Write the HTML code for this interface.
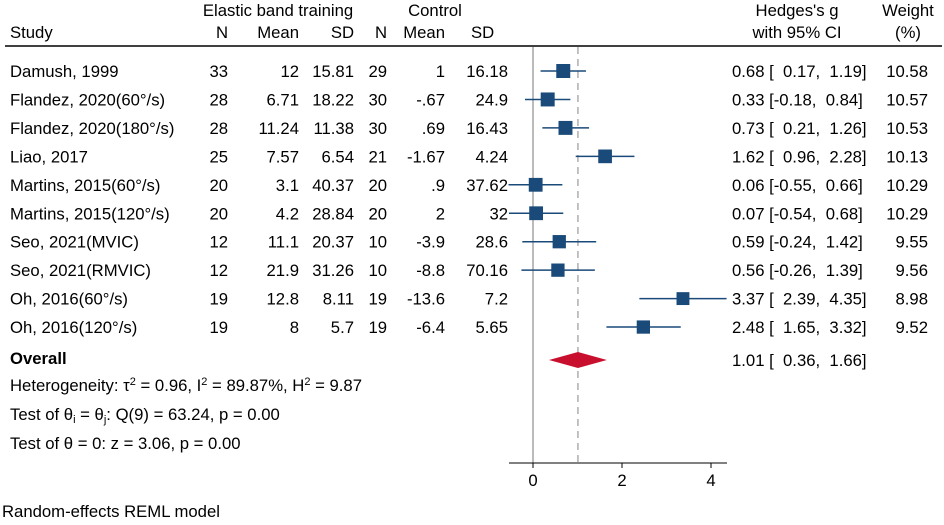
<!DOCTYPE html>
<html><head><meta charset="utf-8">
<style>
body{margin:0;background:#fff;}
svg text{font-family:"Liberation Sans",Arial,sans-serif;font-size:16.7px;fill:#000;white-space:pre;}
</style></head>
<body>
<svg id="chart" width="944" height="520" viewBox="0 0 944 520" xmlns="http://www.w3.org/2000/svg">
<g id="hdr">
<text x="278" y="16" text-anchor="middle">Elastic band training</text>
<text x="435" y="16" text-anchor="middle">Control</text>
<text x="797" y="16" text-anchor="middle">Hedges's g</text>
<text x="908" y="16" text-anchor="middle">Weight</text>
<text x="10" y="38">Study</text>
<text x="228" y="38" text-anchor="end">N</text>
<text x="299" y="38" text-anchor="end">Mean</text>
<text x="354" y="38" text-anchor="end">SD</text>
<text x="387" y="38" text-anchor="end">N</text>
<text x="445" y="38" text-anchor="end">Mean</text>
<text x="471" y="38">SD</text>
<text x="797" y="38" text-anchor="middle">with 95% CI</text>
<text x="908" y="38" text-anchor="middle">(%)</text>
<line x1="5" y1="46" x2="942" y2="46" stroke="#000" stroke-width="1.5"/>
</g>
<g id="rows"></g>
<g id="plot"></g>
<g>
<text x="10" y="364" font-weight="bold">Overall</text>
<text x="10" y="391">Heterogeneity: τ<tspan font-size="11" dy="-6">2</tspan><tspan dy="6"> = 0.96, I</tspan><tspan font-size="11" dy="-6">2</tspan><tspan dy="6"> = 89.87%, H</tspan><tspan font-size="11" dy="-6">2</tspan><tspan dy="6"> = 9.87</tspan></text>
<text x="10" y="420">Test of θ<tspan font-size="11" dy="3">i</tspan><tspan dy="-3"> = θ</tspan><tspan font-size="11" dy="3">j</tspan><tspan dy="-3">: Q(9) = 63.24, p = 0.00</tspan></text>
<text x="10" y="449">Test of θ = 0: z = 3.06, p = 0.00</text>
<text x="2" y="517">Random-effects REML model</text>
</g>
</svg>
<script>
const studies=["Damush, 1999","Flandez, 2020(60°/s)","Flandez, 2020(180°/s)","Liao, 2017","Martins, 2015(60°/s)","Martins, 2015(120°/s)","Seo, 2021(MVIC)","Seo, 2021(RMVIC)","Oh, 2016(60°/s)","Oh, 2016(120°/s)"];
const n1=["33","28","28","25","20","20","12","12","19","19"];
const mean1=["12","6.71","11.24","7.57","3.1","4.2","11.1","21.9","12.8","8"];
const sd1=["15.81","18.22","11.38","6.54","40.37","28.84","20.37","31.26","8.11","5.7"];
const n2=["29","30","30","21","20","20","10","10","19","19"];
const mean2=["1","-.67",".69","-1.67",".9","2","-3.9","-8.8","-13.6","-6.4"];
const sd2=["16.18","24.9","16.43","4.24","37.62","32","28.6","70.16","7.2","5.65"];
const g=[0.68,0.33,0.73,1.62,0.06,0.07,0.59,0.56,3.37,2.48];
const lo=[0.17,-0.18,0.21,0.96,-0.55,-0.54,-0.24,-0.26,2.39,1.65];
const hi=[1.19,0.84,1.26,2.28,0.66,0.68,1.42,1.39,4.35,3.32];
const weight=[10.58,10.57,10.53,10.13,10.29,10.29,9.55,9.56,8.98,9.52];
const overall=[1.01,0.36,1.66];
const ticks=[0,2,4];

const NS="http://www.w3.org/2000/svg";
const X=v=>533+v*44.5;
const Y=i=>71+i*28.45;
function mk(tag,attrs,parent,txt){const e=document.createElementNS(NS,tag);for(const k in attrs)e.setAttribute(k,attrs[k]);if(txt!==undefined)e.textContent=txt;parent.appendChild(e);return e;}
const rows=document.getElementById('rows'),plot=document.getElementById('plot');
const f2=v=>v.toFixed(2);
const pad=v=>(v<0?"":"  ")+f2(v);
let l=mk('line',{x1:X(0),y1:47,x2:X(0),y2:463,stroke:'#777','stroke-width':1},plot);


l=mk('line',{x1:X(overall[0]),y1:47,x2:X(overall[0]),y2:463,stroke:'#999','stroke-width':1.2,'stroke-dasharray':'7,5'},plot);


studies.forEach((s,i)=>{
  const y=Y(i)+6;
  const cells=[[s,10,'start','study-name'],[n1[i],228,'end','n-treatment'],[mean1[i],299,'end','mean-treatment'],[sd1[i],354,'end','sd-treatment'],[n2[i],387,'end','n-control'],[mean2[i],445,'end','mean-control'],[sd2[i],508,'end','sd-control'],
   [f2(g[i])+" ["+pad(lo[i])+",  "+f2(hi[i])+"]",732,'start','effect-ci'],[f2(weight[i]),928,'end','weight']];
  cells.forEach(c=>{const t=mk('text',{x:c[1],y:y,'text-anchor':c[2]},rows,c[0]);
    
    });
  const ci=mk('line',{x1:X(lo[i]),y1:Y(i),x2:X(hi[i]),y2:Y(i),stroke:'#1a4a7a','stroke-width':1.5},plot);
  
  
  const sz=Math.sqrt(weight[i])*4.3;
  const sq=mk('rect',{x:X(g[i])-sz/2,y:Y(i)-sz/2,width:sz,height:sz,fill:'#1a4a7a'},plot);
  
  
});
const oy=360;
const d=mk('polygon',{points:`${X(overall[1])},${oy} ${X(overall[0])},${oy-8} ${X(overall[2])},${oy} ${X(overall[0])},${oy+8}`,fill:'#c8102e'},plot);


const ot=mk('text',{x:732,y:oy+6},rows,f2(overall[0])+" ["+pad(overall[1])+",  "+f2(overall[2])+"]");


const ax=mk('line',{x1:509,y1:463,x2:727,y2:463,stroke:'#000','stroke-width':1},plot);


ticks.forEach(t=>{
  const tk=mk('line',{x1:X(t),y1:463,x2:X(t),y2:468,stroke:'#000'},plot);
  
  
  const tl=mk('text',{x:X(t),y:486,'text-anchor':'middle'},plot,String(t));
  
  
});
</script>
</body></html>
